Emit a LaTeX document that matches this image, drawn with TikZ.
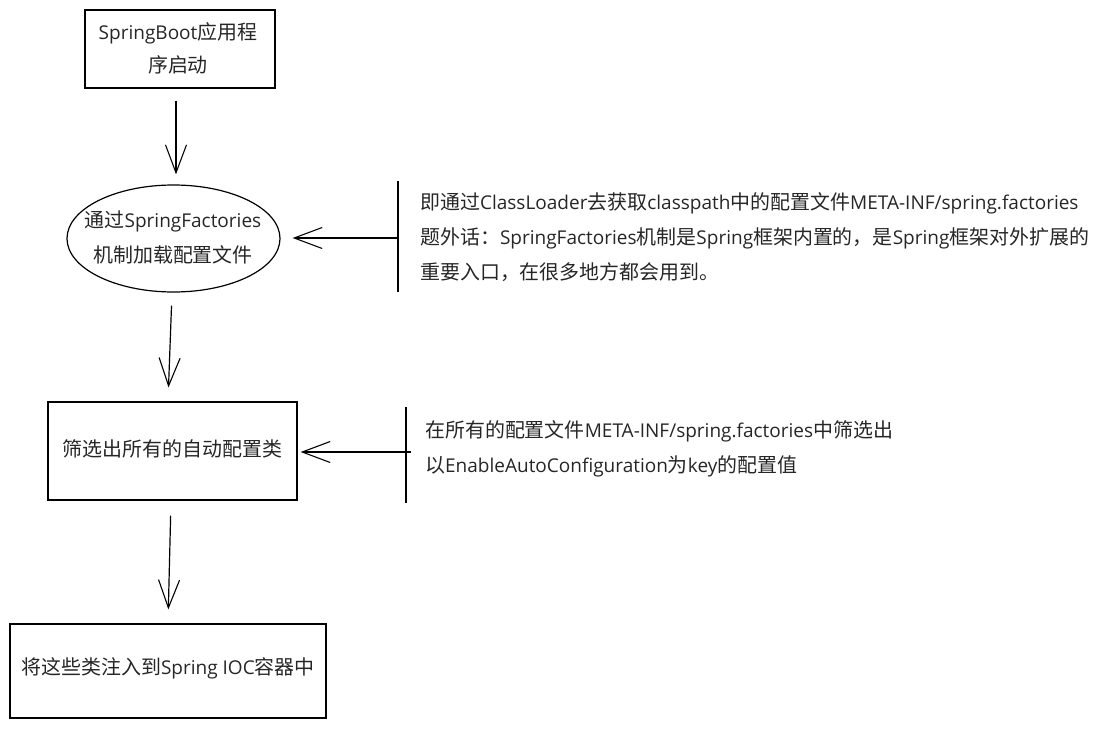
\documentclass[tikz,border=0pt]{standalone}
\usepackage{fontspec}
\setmainfont{Open Sans}
\newfontfamily\cjkfam[Scale=1.05]{Noto Sans CJK SC}
\newcommand\zhs[1]{{\cjkfam #1}}
\usetikzlibrary{arrows.meta,shapes.geometric}
\begin{document}
\begin{tikzpicture}[x=1pt,y=-1pt,
  boxst/.style={draw=black,line width=1.2pt,rectangle,inner sep=0pt},
  ellst/.style={draw=black,line width=1.2pt,ellipse,inner sep=0pt},
  txt/.style={inner sep=0pt,align=center,font=\fontsize{19}{33}\selectfont,text=black!85},
  notest/.style={inner sep=0pt,align=left,anchor=west,font=\fontsize{19}{35}\selectfont,text=black!85},
  arr/.style={line width=1.2pt,-{Straight Barb[length=28pt,width=21pt,line width=1.1pt]}},
  barst/.style={line width=1.2pt}]
\useasboundingbox (0,0) rectangle (1105,728);
% boxes
\node[boxst,minimum width=190,minimum height=78] (b1) at (180,49) {};
\node[txt] (b1t) at (178,48) {SpringBoot\zhs{应用程}\\\zhs{序启动}};
\node[ellst,minimum width=213,minimum height=107] (ell) at (173.5,238.5) {};
\node[txt,font=\fontsize{19}{35}\selectfont] (ellt) at (173,237) {\zhs{通过}SpringFactories\\\zhs{机制加载配置文件}};
\node[boxst,minimum width=249,minimum height=98] (b2) at (172.5,451) {};
\node[txt] (b2t) at (172.5,449) {\zhs{筛选出所有的自动配置类}};
\node[boxst,minimum width=316,minimum height=94] (b3) at (168,671) {};
\node[txt] (b3t) at (168,668) {\zhs{将这些类注入到}Spring IOC\zhs{容器中}};
% notes
\node[notest] (n1) at (420,237) {\zhs{即通过}ClassLoader\zhs{去获取}classpath\zhs{中的配置文件}META-INF/spring.factories\\
\zhs{题外话：}SpringFactories\zhs{机制是}Spring\zhs{框架内置的，是}Spring\zhs{框架对外扩展的}\\
\zhs{重要入口，在很多地方都会用到。}};
\node[notest] (n2) at (425,449) {\zhs{在所有的配置文件}META-INF/spring.factories\zhs{中筛选出}\\
\zhs{以}EnableAutoConfiguration\zhs{为}key\zhs{的配置值}};
% bars
\coordinate (bar1t) at (398,181);
\coordinate (bar1b) at (398,292);
\coordinate (bar1m) at (398,238);
\coordinate (bar2t) at (406,407);
\coordinate (bar2b) at (406,503);
\coordinate (bar2m) at (411,452);
\draw[barst] (bar1t) -- (bar1b);
\draw[barst] (bar2t) -- (bar2b);
% arrows
\draw[arr,shorten <=12pt,shorten >=10pt] ([xshift=-4pt]b1.south) -- ([xshift=2.5pt]ell.north);
\draw[arr,shorten <=13pt,shorten >=14pt] ([xshift=-1.5pt]ell.south) -- ([xshift=-4.5pt]b2.north);
\draw[arr,shorten <=15pt,shorten >=14pt] ([xshift=-1.5pt]b2.south) -- (b3.north);
\draw[arr,shorten >=12pt] (bar1m) -- (bar1m -| ell.east);
\draw[arr,shorten >=3pt] (bar2m) -- (bar2m -| b2.east);
\end{tikzpicture}
\end{document}
